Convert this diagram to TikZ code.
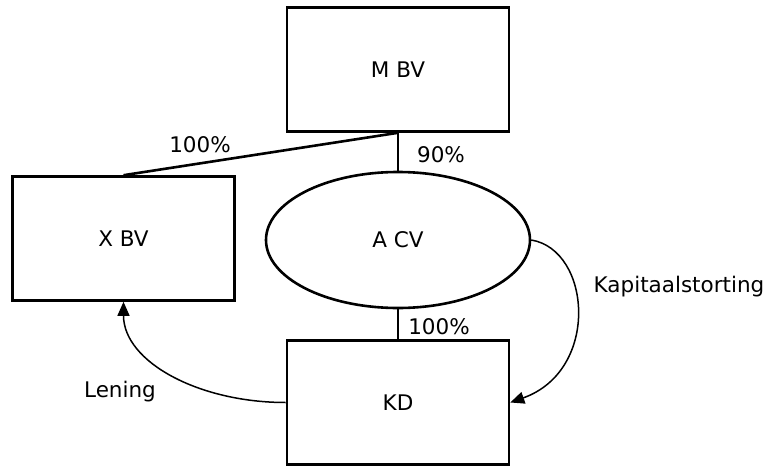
\documentclass[tikz,border=0pt]{standalone}
\usepackage{fontspec}
\setmainfont{DejaVu Sans}
\usetikzlibrary{positioning,shapes.geometric}
\usetikzlibrary{arrows.meta}
\begin{document}
\begin{tikzpicture}[x=1pt,y=-1pt]
\tikzstyle{main}=[rectangle, minimum width=222pt, minimum height=124pt, inner sep=0pt, line width=2.6pt, draw=black]
\tikzstyle{oval}=[ellipse, minimum width=264pt, minimum height=136pt, inner sep=0pt, line width=2.6pt, draw=black]
\tikzstyle{own}=[line width=2.6pt, black]
\tikzstyle{connect}=[-{Triangle[length=14pt,width=12pt]}, line width=1.5pt, black]
\tikzstyle{txt}=[font=\fontsize{21.5}{24}\selectfont, inner sep=0pt]
  \useasboundingbox (0,0) rectangle (777,466);
  \node[main, txt] (mbv) at (398,69.5) {M BV};
  \node[main, txt] (xbv) at (123.5,238.5) {X BV};
  \node[oval, txt] (acv) at (398,240) {A CV};
  \node[main, txt] (kd) at (398,402.5) {KD};
  \draw[own] (mbv.south) -- (acv.north);
  \draw[own] (mbv.south) -- (xbv.north);
  \draw[own] (acv.south) -- (kd.north);
  \node[txt] (pxbv) at (200,145) {100\%};
  \node[txt] (pacv) at (441,155) {90\%};
  \node[txt] (pkd) at (439,327) {100\%};
  \draw[connect] (acv.east) .. controls +(60,10) and +(90,-32) .. (kd.east);
  \node[txt] (storting) at (679,287) {Kapitaalstorting};
  \draw[connect] (kd.west) .. controls +(-87,0) and +(0,60) .. (xbv.south);
  \node[txt] (lening) at (120,392) {Lening};
\end{tikzpicture}
\end{document}
